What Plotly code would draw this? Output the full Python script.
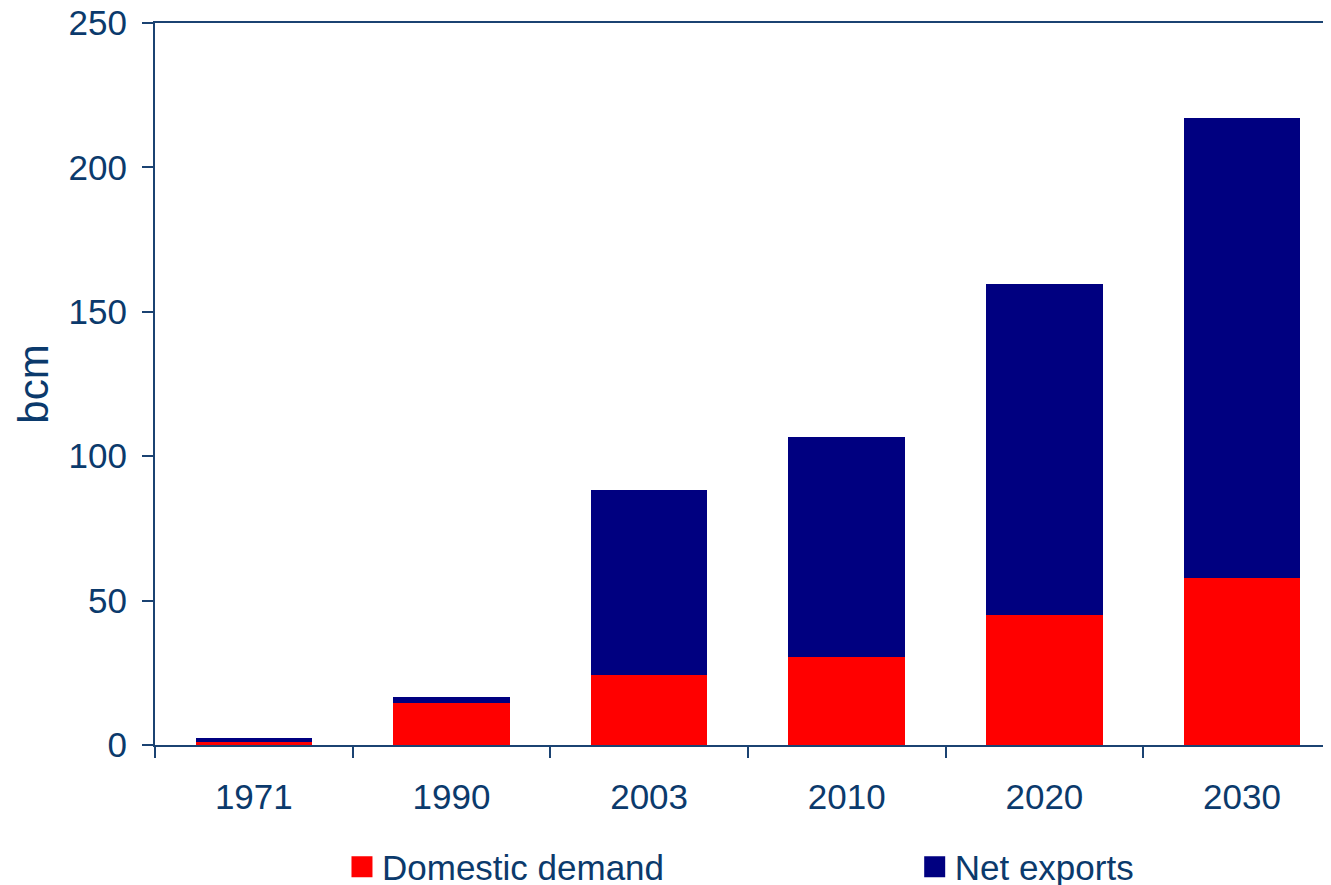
import plotly.graph_objects as go

years = ['1971', '1990', '2003', '2010', '2020', '2030']
domestic = [1.0, 14.5, 24.2, 30.4, 44.9, 57.7]
exports = [1.3, 2.0, 64.1, 76.2, 114.7, 159.4]

axis_col = '#1B4372'
text_col = '#0B3A6C'
font = dict(family='Liberation Sans, Arial', size=35, color=text_col)

fig = go.Figure()
fig.add_trace(go.Bar(x=years, y=domestic, name='Domestic demand',
                     marker=dict(color='#FF0000', line=dict(width=0)),
                     showlegend=False))
fig.add_trace(go.Bar(x=years, y=exports, name='Net exports',
                     marker=dict(color='#000080', line=dict(width=0)),
                     showlegend=False))

# legend-only traces so the legend squares can be big, one legend each
fig.add_trace(go.Scatter(x=[None], y=[None], mode='markers', name='Domestic demand',
                         legend='legend',
                         marker=dict(symbol='square', size=16, color='#FF0000',
                                     line=dict(width=5, color='#FF0000'))))
fig.add_trace(go.Scatter(x=[None], y=[None], mode='markers', name='Net exports',
                         legend='legend2',
                         marker=dict(symbol='square', size=16, color='#000080',
                                     line=dict(width=5, color='#000080'))))

leg = dict(orientation='h', xanchor='left', yanchor='middle', font=font,
           bgcolor='rgba(0,0,0,0)', itemwidth=30)
# page body has an 8px margin, so the figure is a bit smaller than the window
fig.update_layout(
    width=1323, height=877,
    barmode='stack', bargap=0.41,
    plot_bgcolor='white', paper_bgcolor='white',
    font=font,
    margin=dict(l=147, r=0, t=15, b=140, autoexpand=False),
    legend=dict(leg, x=0.159, y=-0.169),
    legend2=dict(leg, x=0.646, y=-0.169),
)
fig.update_xaxes(
    type='category', range=[-0.5, 5.45],
    showline=True, linecolor=axis_col, linewidth=2, mirror=True,
    ticks='outside', tickson='boundaries', ticklen=11, tickwidth=2, tickcolor=axis_col,
    showgrid=False, ticklabelstandoff=20,
)
fig.update_yaxes(
    range=[0, 250], dtick=50,
    showline=True, linecolor=axis_col, linewidth=2,
    ticks='outside', ticklen=11, tickwidth=2, tickcolor=axis_col,
    showgrid=False, zeroline=False, ticklabelstandoff=8,
    ticklabeloverflow='allow',
    title=dict(text='bcm', standoff=7),
)

fig.write_html('out.html')
